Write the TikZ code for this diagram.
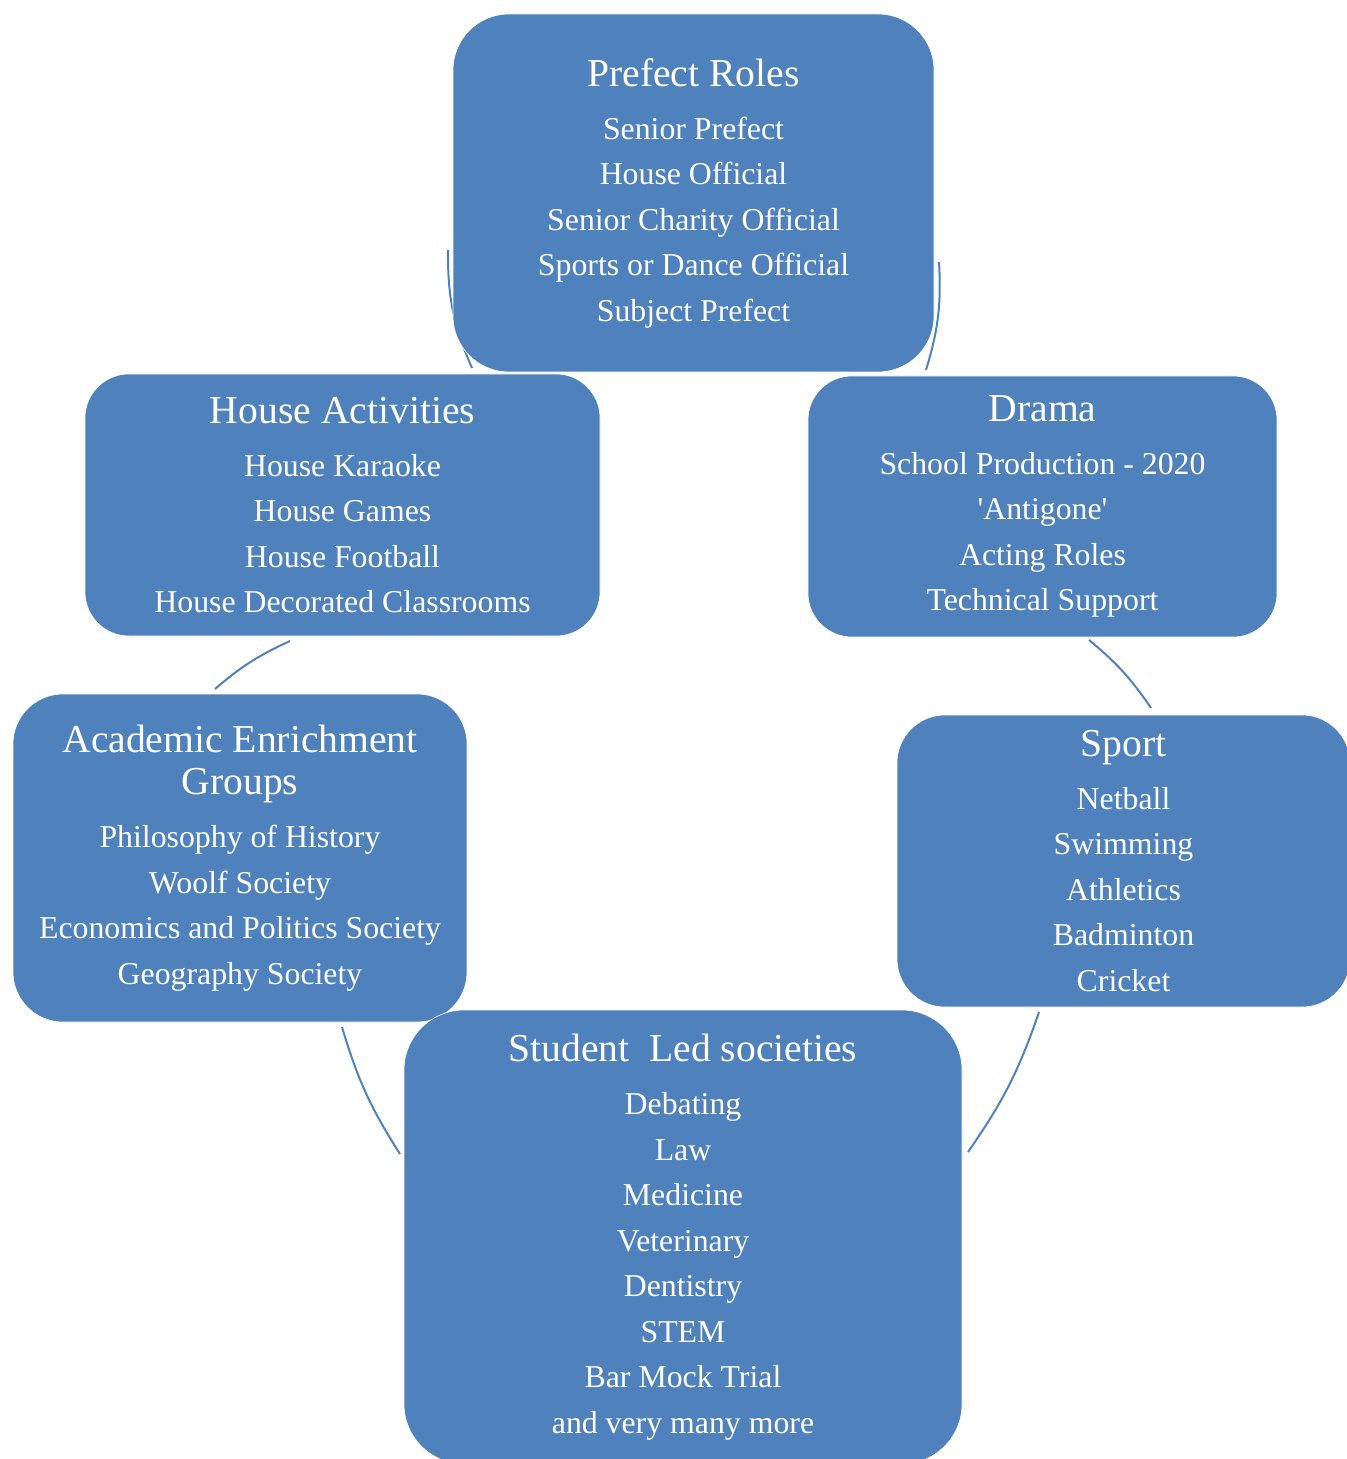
\documentclass[tikz,border=0pt]{standalone}
\usepackage{fontspec}
\setmainfont{Liberation Serif}
\usetikzlibrary{positioning}
\definecolor{boxblue}{HTML}{4F81BD}
\tikzset{
	box/.style={rectangle, rounded corners=#1, fill=boxblue, draw=white, line width=0.3pt,
		text=white, align=center, inner sep=0pt,
		font=\fontsize{15.9}{22.75}\selectfont},
	link/.style={draw=boxblue, line width=1pt, bend left=8},
}
\newcommand{\hd}[1]{{\fontsize{19.8}{22.75}\selectfont #1}}

\begin{document}
\begin{tikzpicture}[x=0.5pt,y=-0.5pt]
	\useasboundingbox (0,0) rectangle (1346,1459);
	% connectors first, the boxes cover their ends
	\coordinate (p1) at (939,262);  \coordinate (d1) at (926,370);
	\coordinate (d2) at (1089,640); \coordinate (s1) at (1151,708);
	\coordinate (s2) at (1039,1012); \coordinate (t1) at (968,1152);
	\coordinate (t2) at (400,1154); \coordinate (a1) at (342,1027);
	\coordinate (a2) at (215,689);  \coordinate (h1) at (290,641);
	\coordinate (h2) at (472,368);  \coordinate (p2) at (448,250);
	\draw[link, bend left=10] (p1) to (d1);
	\draw[link] (d2) to (s1);
	\draw[link] (s2) to (t1);
	\draw[link] (t2) to (a1);
	\draw[link] (a2) to (h1);
	\draw[link, bend left=12] (h2) to (p2);
	% boxes
	\node[box=28pt, minimum width=240.5pt, minimum height=179pt] (prefect) at (693.5,193)
		{\hd{Prefect Roles}\\[3.75pt] Senior Prefect\\ House Official\\ Senior Charity Official\\
		 Sports or Dance Official\\ Subject Prefect};
	\node[box=22pt, minimum width=257.5pt, minimum height=131pt] (house) at (342.5,505)
		{\hd{House Activities}\\[3.75pt] House Karaoke\\ House Games\\ House Football\\
		 House Decorated Classrooms};
	\node[box=22pt, minimum width=234.5pt, minimum height=130.5pt] (drama) at (1042.5,506.5)
		{\hd{Drama}\\[3.75pt] School Production - 2020\\ \textquotesingle Antigone\textquotesingle\\
		 Acting Roles\\ Technical Support};
	\node[box=25pt, minimum width=227pt, minimum height=164pt] (academic) at (240,858)
		{\hd{Academic Enrichment}\\[-1.75pt] \hd{Groups}\\[3.75pt] Philosophy of History\\
		 Woolf Society\\ Economics and Politics Society\\ Geography Society};
	\node[box=24pt, minimum width=226.5pt, minimum height=146pt] (sport) at (1123.5,861)
		{\hd{Sport}\\[3.75pt] Netball\\ Swimming\\ Athletics\\ Badminton\\ Cricket};
	\node[box=30pt, minimum width=279pt, minimum height=227pt] (student) at (683,1237)
		{\hd{Student\ \ Led societies}\\[3.75pt] Debating\\ Law\\ Medicine\\ Veterinary\\
		 Dentistry\\ STEM\\ Bar Mock Trial\\ and very many more};
\end{tikzpicture}
\end{document}
